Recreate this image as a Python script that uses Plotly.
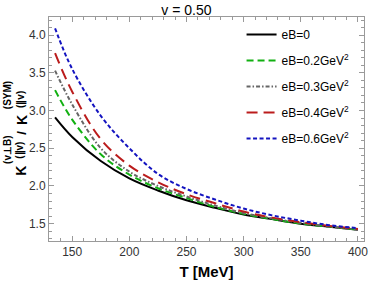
import plotly.graph_objects as go

T = [135, 150, 175, 200, 225, 250, 275, 300, 325, 350, 375, 400]
k_eb0 = [2.91, 2.65, 2.33, 2.10, 1.94, 1.81, 1.71, 1.62, 1.56, 1.50, 1.46, 1.42]
k_eb02 = [3.27, 2.88, 2.42, 2.15, 1.97, 1.84, 1.72, 1.63, 1.56, 1.50, 1.46, 1.42]
k_eb03 = [3.53, 3.08, 2.50, 2.19, 2.00, 1.86, 1.74, 1.64, 1.57, 1.51, 1.46, 1.42]
k_eb04 = [3.76, 3.25, 2.62, 2.27, 2.05, 1.89, 1.77, 1.66, 1.58, 1.52, 1.47, 1.43]
k_eb06 = [4.09, 3.55, 2.93, 2.50, 2.16, 1.96, 1.82, 1.70, 1.61, 1.54, 1.48, 1.44]

names = ["eB=0", "eB=0.2GeV<sup>2</sup>", "eB=0.3GeV<sup>2</sup>",
         "eB=0.4GeV<sup>2</sup>", "eB=0.6GeV<sup>2</sup>"]
series = [k_eb0, k_eb02, k_eb03, k_eb04, k_eb06]
colors = ["#000000", "#11b011", "#666666", "#bb1c1c", "#1414c0"]
dashes = ["solid", "7px,4px", "4px,2px,1.5px,2px", "11px,6px", "4px,2.5px"]

fig = go.Figure()
for i, (nm, ys, c, d) in enumerate(zip(names, series, colors, dashes)):
    fig.add_trace(go.Scatter(x=T, y=ys, mode="lines", name=nm,
                             legendgroup=str(i),
                             line=dict(color=c, width=2, dash=d, shape="spline", smoothing=1)))

axis_common = dict(showline=True, linecolor="#9a9a9a", linewidth=1, mirror="allticks",
                   ticks="inside", ticklen=5, tickcolor="#9a9a9a", tickwidth=1,
                   showgrid=False, zeroline=False,
                   tickfont=dict(family="Liberation Sans", size=12, color="#333333"))

fig.update_xaxes(range=[129.7, 405.3], tickvals=[150, 200, 250, 300, 350, 400],
                 minor=dict(ticks="inside", ticklen=3, tickcolor="#9a9a9a", dtick=10, tick0=0),
                 title=dict(text="<b>T [MeV]</b>", font=dict(family="Liberation Sans", size=15, color="#000"),
                            standoff=8),
                 **axis_common)
fig.update_yaxes(range=[1.27, 4.24], tickvals=[1.5, 2.0, 2.5, 3.0, 3.5, 4.0],
                 ticktext=["1.5", "2.0", "2.5", "3.0", "3.5", "4.0"],
                 minor=dict(ticks="inside", ticklen=3, tickcolor="#9a9a9a", dtick=0.1, tick0=0),
                 **axis_common)

L, R, TOP, B = 49, 6, 17, 42
W, H = 374, 284
pw, ph = W - L - R, H - TOP - B

def px(xp):
    return (xp - L) / pw

def py(yp):
    return (H - B - yp) / ph

pieces = [
    ("<b>K</b>", 14, 21, 171),
    ("<b>(v⊥B)</b>", 10, 7, 151),
    ("<b>(∥v)</b>", 10, 20, 151),
    ("<b>/</b>", 13, 21, 133),
    ("<b>K</b>", 14, 21, 120),
    ("<b>(SYM)</b>", 10, 7, 96),
    ("<b>(∥v)</b>", 10, 20, 100),
]
for txt, sz, xx, yy in pieces:
    fig.add_annotation(text=txt, xref="paper", yref="paper", x=px(xx), y=py(yy),
                       xanchor="center", yanchor="middle", textangle=-90, showarrow=False,
                       font=dict(family="Liberation Sans", size=sz, color="#000"))

fig.update_layout(
    width=W, height=H,
    margin=dict(l=L, r=R, t=TOP, b=B),
    paper_bgcolor="white", plot_bgcolor="white",
    title=dict(text="v = 0.50", x=px(208), xanchor="center", y=1 - 10 / H, yanchor="middle",
               font=dict(family="Liberation Sans", size=14, color="#000")),
    legend=dict(x=px(244), y=py(20), xanchor="left", yanchor="top",
                bgcolor="rgba(0,0,0,0)", traceorder="grouped", tracegroupgap=7,
                font=dict(family="Liberation Sans", size=12, color="#000")),
    showlegend=True,
)

fig.write_html("out.html", config={"displayModeBar": False},
               post_script="document.body.style.margin='0';document.body.style.overflow='hidden';")
